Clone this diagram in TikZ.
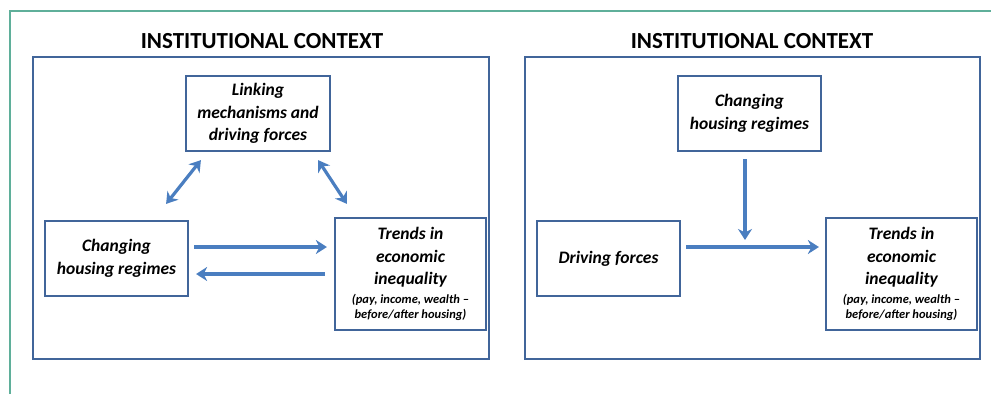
\documentclass[tikz,border=0pt]{standalone}
\usepackage{fontspec}
\setmainfont{Carlito}
\usetikzlibrary{arrows.meta,calc}
\definecolor{boxblue}{HTML}{41659A}
\definecolor{arrblue}{HTML}{4A7EC0}
\definecolor{teal}{HTML}{5FAF9A}
\tikzset{
  x=1pt,y=-1pt,
  panel/.style={draw=boxblue,line width=2.4pt,minimum width=#1,minimum height=302pt,inner sep=0pt},
  titletext/.style={font=\fontsize{23}{26}\selectfont\bfseries,inner sep=0pt},
  itembox/.style={draw=boxblue,line width=2.2pt,fill=white,align=center,inner sep=0pt,
    font=\fontsize{17.5}{22.5}\selectfont\bfseries\itshape},
  conn/.style={draw=arrblue,line width=3.2pt,-{Stealth[length=11pt,width=14pt,inset=3.5pt]}},
  dconn/.style={draw=arrblue,line width=3.2pt,{Stealth[length=11pt,width=14pt,inset=3.5pt]}-{Stealth[length=11pt,width=14pt,inset=3.5pt]}},
}
\newcommand{\smalltxt}{\fontsize{12.5}{15}\selectfont}
\begin{document}
\begin{tikzpicture}
\useasboundingbox (0,0) rectangle (991,394);
\fill[white] (0,0) rectangle (991,394);
% frame
\coordinate (fa) at (9.5,394);
\coordinate (fb) at (9.5,10.7);
\coordinate (fc) at (991,10.7);
\draw[teal,line width=2pt] (fa) -- (fb) -- (fc);

% left panel
\node[titletext] (titleL) at (262,41) {INSTITUTIONAL CONTEXT};
\node[panel=456pt] (outerL) at (261,208) {};
\node[itembox,minimum width=144pt,minimum height=75pt] (topL) at (258,113.5) {Linking\\mechanisms and\\driving forces};
\node[itembox,minimum width=143pt,minimum height=75pt] (leftL) at (116.5,258.5) {Changing\\housing regimes};
\node[itembox,minimum width=151pt,minimum height=112pt] (rightL) at (410.5,274) {Trends in\\economic\\inequality\\[-4pt]{\smalltxt (pay, income, wealth –}\\[-7pt]{\smalltxt before/after housing)}};

\draw[dconn] ($(topL.south west)+(16,8)$) -- ($(leftL.north east)+(-23,-16)$);
\draw[dconn] ($(topL.south east)+(-13,8)$) -- ($(rightL.north west)+(13,-13)$);
\draw[conn] ($(leftL.east)+(5,-11.5)$) -- ($(rightL.west)+(-7,-27)$);
\draw[conn] ($(rightL.west)+(-9,0)$) -- ($(leftL.east)+(7,15.5)$);

% right panel
\node[titletext] (titleR) at (752,41) {INSTITUTIONAL CONTEXT};
\node[panel=455pt] (outerR) at (752.5,208) {};
\node[itembox,minimum width=143pt,minimum height=75pt] (topR) at (749.5,113.5) {Changing\\housing regimes};
\node[itembox,minimum width=143pt,minimum height=75pt] (leftR) at (608.5,258.5) {Driving forces};
\node[itembox,minimum width=151pt,minimum height=112pt] (rightR) at (901.5,274) {Trends in\\economic\\inequality\\[-4pt]{\smalltxt (pay, income, wealth –}\\[-7pt]{\smalltxt before/after housing)}};
\coordinate (junc) at (745,240);
\draw[conn] ($(topR.south)+(-4.5,7)$) -- (junc);
\draw[conn] ($(leftR.east)+(5,-11.5)$) -- ($(rightR.west)+(-6,-27)$);
\end{tikzpicture}
\end{document}
